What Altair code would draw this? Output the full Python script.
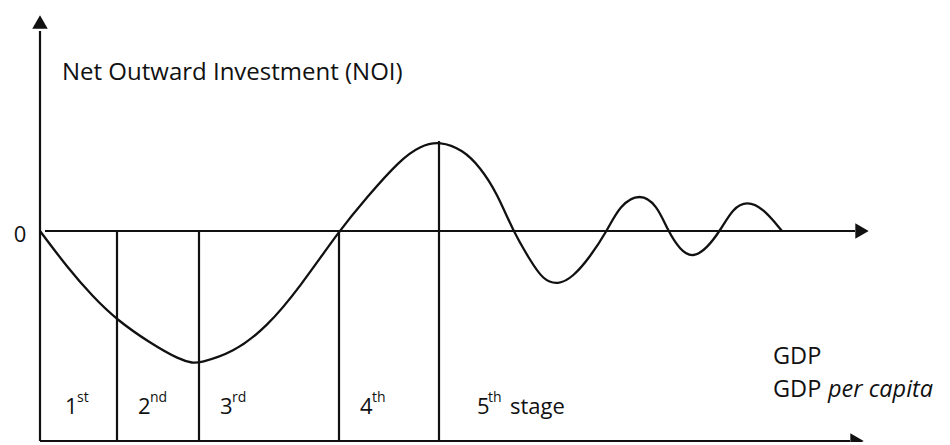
import altair as alt
import pandas as pd

# Curve of Net Outward Investment vs GDP (abstract units)
curve_x = [0.0, 2.7, 5.3, 7.7, 11.0, 14.0, 15.3, 15.9, 19.3, 22.7, 26.0, 29.9,
           32.7, 36.0, 38.0, 40.0, 42.3, 44.0, 45.7, 47.3, 49.0, 50.3, 51.8, 53.3,
           55.0, 56.7, 58.0, 60.0, 61.7, 62.8, 64.0, 65.3, 66.7, 68.0, 69.3,
           70.7, 72.3, 74.2]
curve_y = [0.0, -3.6, -6.6, -8.9, -11.2, -12.9, -13.2, -13.2, -12.2, -9.6, -5.6, 0.0,
           3.4, 7.1, 8.5, 9.0, 8.1, 6.4, 3.8, 0.0, -2.9, -4.9, -5.4, -4.6,
           -2.6, 0.0, 2.6, 3.8, 2.6, 0.0, -1.9, -2.7, -1.7, 0.0, 2.3,
           3.0, 2.3, 0.0]

stage_x = [7.7, 15.9, 29.9, 39.9]
stage_top = [0.0, 0.0, 0.0, 9.0]
axis_bottom = -21.0
axis_top = 20.0

stage_nums = ["1", "2", "3", "4", "5"]
stage_num_x = [2.5, 9.8, 18.0, 32.0, 43.7]
stage_sup = ["st", "nd", "rd", "th", "th"]
stage_sup_x = [3.7, 11.0, 19.2, 33.2, 44.8]
label_y = -17.6
sup_y = -16.7

curve = pd.DataFrame({"x": curve_x, "y": curve_y, "o": list(range(len(curve_x)))})

xs = alt.Scale(domain=[-3.2, 90.2], nice=False, zero=False)
ys = alt.Scale(domain=[-21.1, 22.3], nice=False, zero=False)
X = lambda f: alt.X(f, type="quantitative", scale=xs, axis=None)
Y = lambda f: alt.Y(f, type="quantitative", scale=ys, axis=None)

ink = "#111111"

line = alt.Chart(curve).mark_line(color=ink, strokeWidth=2.3, interpolate="basis").encode(
    x=X("x"), y=Y("y"), order="o:Q")

vrules = pd.DataFrame({"x": [0.0] + stage_x, "y": [axis_bottom] * 5,
                       "y2": [axis_top] + stage_top})
vr = alt.Chart(vrules).mark_rule(color=ink, strokeWidth=2.2).encode(
    x=X("x"), y=Y("y"), y2="y2")

hrules = pd.DataFrame({"x": [0.5, 0.0], "x2": [81.5, 81.0], "y": [0.0, axis_bottom]})
hr = alt.Chart(hrules).mark_rule(color=ink, strokeWidth=2.2).encode(
    x=X("x"), x2="x2", y=Y("y"))

arr_r = pd.DataFrame({"x": [82.2, 81.7], "y": [0.0, axis_bottom]})
ar = alt.Chart(arr_r).mark_point(shape="triangle-right", filled=True, color=ink,
                                 size=240, opacity=1).encode(x=X("x"), y=Y("y"))
arr_u = pd.DataFrame({"x": [0.0], "y": [20.9]})
au = alt.Chart(arr_u).mark_point(shape="triangle-up", filled=True, color=ink,
                                 size=240, opacity=1).encode(x=X("x"), y=Y("y"))

font = "Open Sans"
fs = 22
title = alt.Chart(pd.DataFrame({"x": [2.2], "y": [15.8], "t": ["Net Outward Investment (NOI)"]})
                  ).mark_text(align="left", baseline="middle", fontSize=24, font=font,
                              color=ink).encode(x=X("x"), y=Y("y"), text="t:N")
zero = alt.Chart(pd.DataFrame({"x": [-2.0], "y": [-0.4], "t": ["0"]})
                 ).mark_text(align="center", baseline="middle", fontSize=fs, font=font,
                             color=ink).encode(x=X("x"), y=Y("y"), text="t:N")

nums = alt.Chart(pd.DataFrame({"x": stage_num_x, "y": [label_y] * 5, "t": stage_nums})
                 ).mark_text(align="left", baseline="middle", fontSize=fs, font=font,
                             color=ink).encode(x=X("x"), y=Y("y"), text="t:N")
sups = alt.Chart(pd.DataFrame({"x": stage_sup_x, "y": [sup_y] * 5, "t": stage_sup})
                 ).mark_text(align="left", baseline="middle", fontSize=14, font=font,
                             color=ink).encode(x=X("x"), y=Y("y"), text="t:N")
stage_word = alt.Chart(pd.DataFrame({"x": [47.0], "y": [label_y], "t": ["stage"]})
                       ).mark_text(align="left", baseline="middle", fontSize=fs, font=font,
                                   color=ink).encode(x=X("x"), y=Y("y"), text="t:N")

gdp = alt.Chart(pd.DataFrame({"x": [73.3, 73.3], "y": [-12.6, -15.9], "t": ["GDP", "GDP"]})
                ).mark_text(align="left", baseline="middle", fontSize=23.5, font=font,
                            color=ink).encode(x=X("x"), y=Y("y"), text="t:N")
pc = alt.Chart(pd.DataFrame({"x": [78.8], "y": [-15.9], "t": ["per capita"]})
               ).mark_text(align="left", baseline="middle", fontSize=23.5, font=font,
                           fontStyle="italic", color=ink).encode(x=X("x"), y=Y("y"), text="t:N")

chart = alt.layer(vr, hr, line, ar, au, title, zero, nums, sups, stage_word, gdp, pc).properties(
    width=934, height=434, autosize=alt.AutoSizeParams(type="none"), padding=0,
    background="white"
).configure_view(stroke=None)

chart.save("out.html", embed_options={"renderer": "svg", "actions": False})
